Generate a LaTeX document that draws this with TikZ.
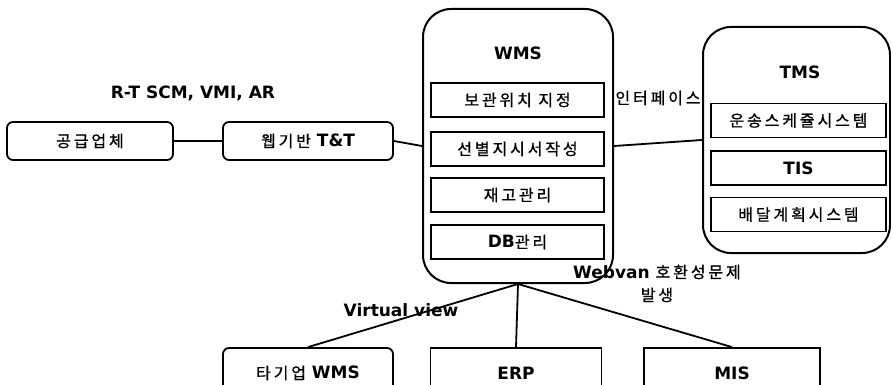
\documentclass[tikz,border=0pt]{standalone}
\usepackage{fontspec}
\setmainfont{DejaVu Sans}
\newfontfamily\kr[LetterSpace=18,FakeBold=0.8]{Noto Sans CJK KR}
\newcommand\krtxt[1]{{\fontsize{16}{19}\selectfont\mdseries\kr #1}}
\begin{document}
\begin{tikzpicture}[x=1pt,y=-1pt,
  outer/.style={draw, line width=2pt, rounded corners=28pt, inner sep=0pt},
  inbox/.style={draw, line width=1.8pt, minimum height=34pt, inner sep=0pt},
  rbox/.style={draw, line width=1.8pt, rounded corners=6pt, inner sep=0pt},
  sbox/.style={draw, line width=1.8pt, inner sep=0pt},
  link/.style={line width=1.8pt},
  lat/.style={font=\fontsize{17}{20}\selectfont\bfseries, inner sep=0pt},
  kor/.style={font=\fontsize{16}{19}\selectfont\kr},
  mix/.style={font=\fontsize{17}{20}\selectfont\bfseries}]
\useasboundingbox (0,0) rectangle (891,385);
\clip (0,0) rectangle (891,385);

% warehouse management system and its modules
\node[outer, minimum width=190pt, minimum height=274pt] (wms) at (518,146) {};
\node[lat] (wmsl) at (518,53) {WMS};
\node[inbox, kor, minimum width=173pt] (w1) at (517.5,100) {보관위치 지정};
\node[inbox, kor, minimum width=173pt] (w2) at (517.5,149) {선별지시서작성};
\node[inbox, kor, minimum width=173pt] (w3) at (517.5,195) {재고관리};
\node[inbox, mix, minimum width=173pt] (w4) at (517.5,242) {DB\krtxt{관리}};

% transport management system and its modules
\node[outer, minimum width=187pt, minimum height=226pt] (tms) at (796.5,140) {};
\node[lat] (tmsl) at (800,72) {TMS};
\node[inbox, kor, minimum width=175pt] (t1) at (798.5,120.5) {운송스케쥴시스템};
\node[inbox, lat, minimum width=175pt, minimum height=34pt] (t2) at (798.5,168) {TIS};
\node[inbox, kor, minimum width=175pt] (t3) at (798.5,214.5) {배달계획시스템};

% supplier side
\node[rbox, kor, minimum width=166pt, minimum height=38pt] (sup) at (90,141) {공급업체};
\node[rbox, mix, minimum width=170pt, minimum height=38pt] (tt) at (308,141) {\krtxt{웹기반} T\&T};
\node[lat] (rt) at (193,93) {R-T SCM, VMI, AR};

% downstream systems
\node[rbox, mix, minimum width=170pt, minimum height=50pt] (other) at (308,373) {\krtxt{타기업} WMS};
\node[sbox, lat, minimum width=171pt, minimum height=50pt] (erp) at (516,373) {ERP};
\node[sbox, lat, minimum width=176pt, minimum height=50pt] (mis) at (732,373) {MIS};

% labels
\node[kor, inner sep=0pt] (itf) at (658,98) {인터페이스};
\node[mix, inner sep=0pt] (web) at (657,272) {Webvan \krtxt{호환성문제}};
\node[kor, inner sep=0pt] (occ) at (657,295) {발생};
\node[lat] (vv) at (401,310) {Virtual view};

% connectors
\draw[link] (sup.east) -- (tt.west);
\draw[link] (tt.east) -- (wms.west);
\draw[link] (wms.east) -- (tms.west);
\draw[link] (wms.south) -- (other.north);
\draw[link] (wms.south) -- (erp.north);
\draw[link] (wms.south) -- (mis.north);
\end{tikzpicture}
\end{document}
